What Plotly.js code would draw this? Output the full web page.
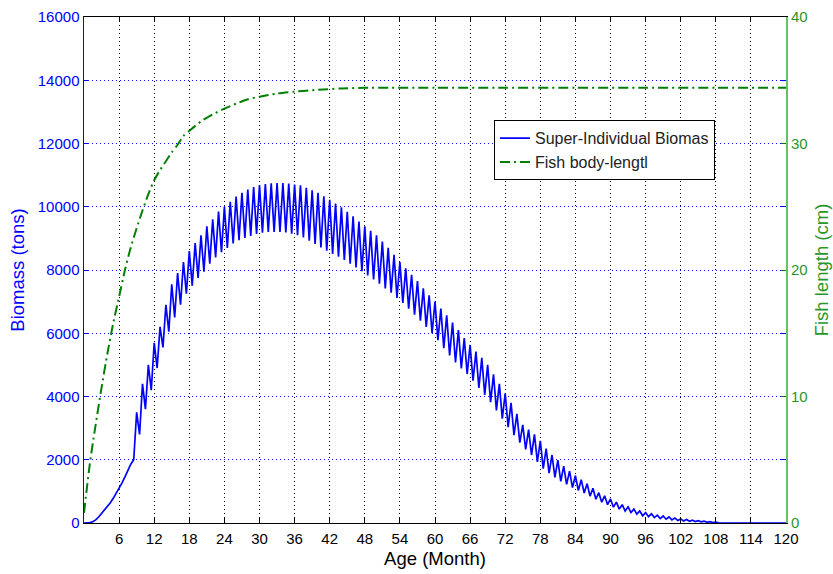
<!DOCTYPE html>
<html>
<head>
<meta charset="utf-8">
<script src="https://cdn.plot.ly/plotly-3.0.1.min.js"></script>
<style>html,body{margin:0;padding:0;background:#fff;}#chart{width:833px;height:574px;}</style>
</head>
<body>
<div id="chart"></div>
<script>
// Biomass (tons), sampled every half month from month 0 to month 120
const biomass = [
  // months 0 - 8.5 (smooth growth)
  0, 2, 10, 40, 100, 190, 300, 400, 520, 640, 780, 930, 1100, 1270, 1460, 1660, 1860, 2000,
  // months 9 - 14.5
  3500, 2800, 4400, 3600, 5000, 4200, 5700, 4900, 6200, 5550, 6900, 6050,
  // months 15 - 20.5
  7550, 6500, 7900, 6900, 8250, 7250, 8600, 7500, 8850, 7750, 9100, 7950,
  // months 21 - 26.5
  9380, 8200, 9600, 8400, 9850, 8560, 10000, 8700, 10160, 8840, 10320, 8940,
  // months 27 - 32.5
  10440, 9010, 10540, 9080, 10620, 9140, 10690, 9180, 10720, 9200, 10740, 9200,
  // months 33 - 38.5
  10750, 9200, 10750, 9190, 10730, 9150, 10700, 9100, 10680, 9030, 10600, 8930,
  // months 39 - 44.5
  10520, 8820, 10440, 8710, 10330, 8610, 10220, 8510, 10100, 8420, 9980, 8320,
  // months 45 - 50.5
  9840, 8200, 9700, 8080, 9530, 7960, 9380, 7830, 9240, 7700, 9100, 7570,
  // months 51 - 56.5
  8900, 7420, 8700, 7280, 8480, 7120, 8250, 6960, 8050, 6780, 7850, 6590,
  // months 57 - 62.5
  7650, 6400, 7420, 6200, 7200, 6000, 7000, 5780, 6780, 5530, 6570, 5300,
  // months 63 - 68.5
  6340, 5080, 6100, 4890, 5850, 4710, 5630, 4500, 5420, 4270, 5220, 4050,
  // months 69 - 74.5
  5000, 3820, 4700, 3560, 4400, 3300, 4100, 3030, 3800, 2780, 3450, 2540,
  // months 75 - 80.5
  3100, 2330, 2950, 2150, 2800, 1930, 2600, 1720, 2350, 1580, 2150, 1440,
  // months 81 - 86.5
  1990, 1320, 1800, 1220, 1640, 1120, 1500, 1030, 1370, 950, 1240, 850,
  // months 87 - 92.5
  1100, 750, 960, 660, 860, 580, 760, 500, 660, 440, 580, 380,
  // months 93 - 98.5
  510, 330, 440, 280, 380, 230, 330, 200, 290, 170, 250, 140,
  // months 99 - 104.5
  220, 120, 190, 100, 160, 80, 130, 65, 110, 55, 90, 45,
  // months 105 - 110.5
  75, 35, 60, 25, 45, 15, 25, 5, 0, 0, 0, 0,
  // months 111 - 116.5
  0, 0, 0, 0, 0, 0, 0, 0, 0, 0, 0, 0,
  // months 117 - 120
  0, 0, 0, 0, 0, 0, 0
];
const biomassStep = 0.5;      // months between biomass samples

// Fish body length (cm)
const lengthMonths = [0, 0.5, 1, 1.5, 2, 3, 4, 5, 6, 7, 8, 9, 10, 11, 12, 13, 14, 15, 16, 17, 18,
  20, 22, 24, 26, 28, 30, 33, 36, 40, 44, 48, 60, 72, 84, 96, 108, 120];
const lengthCm = [0.8, 2.8, 4.7, 6.3, 7.8, 10.7, 13.4, 15.8, 17.9, 20.0, 21.8, 23.3, 24.7, 26.0, 27.1, 27.9, 28.6, 29.3, 29.9, 30.6, 31.0,
  31.75, 32.3, 32.75, 33.15, 33.5, 33.7, 33.95, 34.1, 34.25, 34.35, 34.4, 34.4, 34.4, 34.4, 34.4, 34.4, 34.4];

// Tick labels
const xTicks = [6, 12, 18, 24, 30, 36, 42, 48, 54, 60, 66, 72, 78, 84, 90, 96, 102, 108, 114, 120];
const yTicks = [0, 2000, 4000, 6000, 8000, 10000, 12000, 14000, 16000];
const y2Ticks = [0, 10, 20, 30, 40];

const biomassMonths = biomass.map((_, i) => i * biomassStep);

const FONT = 'Liberation Sans, Arial, Helvetica, sans-serif';
const BLUE = '#0000ff';
const GREEN = '#008000';
const RGREEN = '#2a962a';

const traces = [
  {
    x: biomassMonths, y: biomass, type: 'scatter', mode: 'lines',
    name: 'Super-Individual Biomas',
    line: {color: BLUE, width: 1.7},
    yaxis: 'y'
  },
  {
    x: lengthMonths, y: lengthCm, type: 'scatter', mode: 'lines',
    name: 'Fish body-lengtl',
    line: {color: GREEN, width: 2, dash: '10px,4px,2px,4px', shape: 'spline', smoothing: 0.6},
    yaxis: 'y2'
  }
];

const layout = {
  width: 833, height: 574,
  margin: {l: 84, r: 47, t: 17, b: 51, pad: 0},
  paper_bgcolor: '#fff', plot_bgcolor: '#fff',
  font: {family: FONT, size: 15, color: '#000'},
  showlegend: true,
  legend: {
    x: 0.584, y: 0.796, xanchor: 'left', yanchor: 'top',
    bgcolor: '#fff', bordercolor: '#000', borderwidth: 1,
    font: {family: FONT, size: 16, color: '#222'},
    tracegroupgap: 0
  },
  xaxis: {
    range: [0, 120], tickmode: 'array', tickvals: xTicks, ticktext: xTicks.map(String),
    ticks: 'inside', ticklen: 5, tickcolor: '#000', tickwidth: 1,
    showline: true, linecolor: '#000', linewidth: 1, mirror: 'ticks',
    showgrid: true, gridcolor: '#000', gridwidth: 1, griddash: '1px,3px',
    zeroline: false, ticklabelstandoff: 2,
    tickfont: {family: FONT, size: 15, color: '#000'},
    title: {text: 'Age (Month)', font: {family: FONT, size: 18.5, color: '#000'}, standoff: 6}
  },
  yaxis: {
    range: [0, 16000], tickmode: 'array', tickvals: yTicks, ticktext: yTicks.map(String),
    ticks: 'inside', ticklen: 5, tickcolor: BLUE, tickwidth: 1,
    showline: true, linecolor: BLUE, linewidth: 1.5, mirror: 'ticks',
    showgrid: true, gridcolor: BLUE, gridwidth: 1, griddash: '1px,3px',
    zeroline: false,
    tickfont: {family: FONT, size: 15, color: BLUE},
    title: {text: 'Biomass (tons)', font: {family: FONT, size: 18.5, color: BLUE}, standoff: 8}
  },
  yaxis2: {
    overlaying: 'y', side: 'right',
    range: [0, 40], tickmode: 'array', tickvals: y2Ticks, ticktext: y2Ticks.map(String),
    ticks: 'inside', ticklen: 5, tickcolor: GREEN, tickwidth: 1,
    showline: true, linecolor: '#6abf6a', linewidth: 2,
    showgrid: false, zeroline: false,
    tickfont: {family: FONT, size: 15, color: RGREEN},
    title: {text: 'Fish length (cm)', font: {family: FONT, size: 18.5, color: RGREEN}, standoff: 8}
  }
};

Plotly.newPlot('chart', traces, layout, {displayModeBar: false, staticPlot: true});
</script>
</body>
</html>
